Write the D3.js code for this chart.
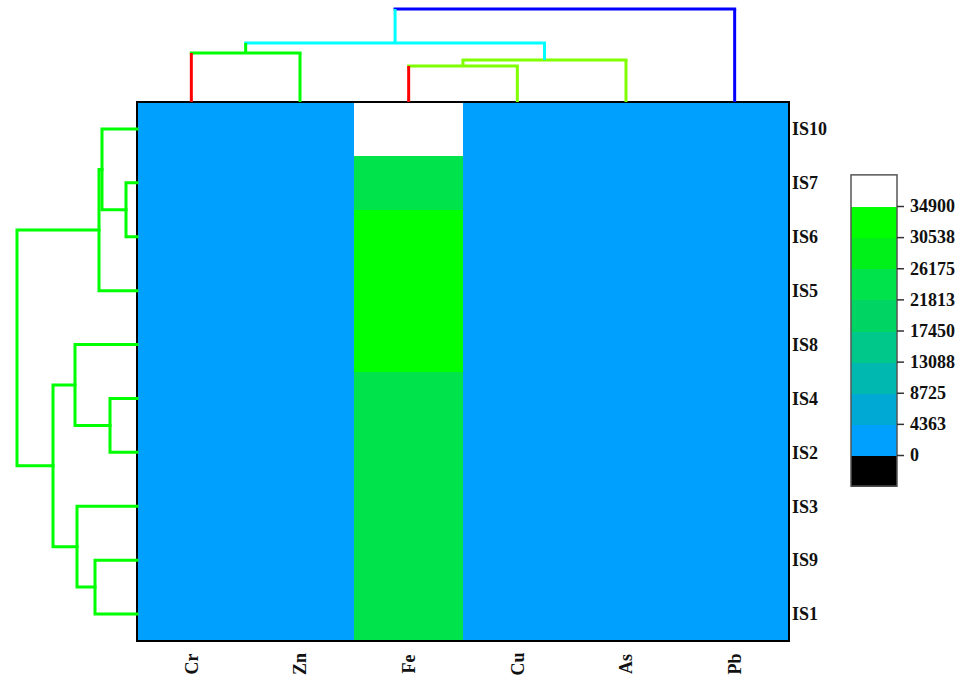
<!DOCTYPE html>
<html>
<head>
<meta charset="utf-8">
<script src="https://cdn.jsdelivr.net/npm/d3@7"></script>
<style>
  html, body { margin: 0; padding: 0; background: #fff; }
  svg { display: block; }
  text { font-family: "Liberation Serif", "Times New Roman", serif; font-weight: bold; fill: #111; }
</style>
</head>
<body>
<svg id="chart" width="967" height="676"></svg>
<script>
// Elements (columns) and samples (rows), in dendrogram leaf order
const elements = ["Cr", "Zn", "Fe", "Cu", "As", "Pb"];
const samples = ["IS10", "IS7", "IS6", "IS5", "IS8", "IS4", "IS2", "IS3", "IS9", "IS1"];

// Concentrations per element, one value per sample (same order as samples)
const crValues = [62, 58, 55, 60, 57, 64, 59, 61, 56, 63];
const znValues = [95, 88, 92, 90, 86, 97, 93, 89, 91, 94];
const feValues = [34900, 24100, 32300, 31800, 31200, 23600, 23300, 22800, 23100, 22900];
const cuValues = [28, 25, 27, 26, 24, 29, 27, 25, 26, 28];
const asValues = [12, 10, 11, 13, 9, 12, 11, 10, 12, 11];
const pbValues = [35, 31, 33, 34, 30, 36, 32, 33, 31, 34];

// Colour levels of the contour scale
const levels = [0, 4363, 8725, 13088, 17450, 21813, 26175, 30538, 34900];

// Column clustering: [childA, childB, height]; leaves are 0..5, merges numbered from 6
const colMerges = [
  [0, 1, 49],
  [2, 3, 36],
  [7, 4, 42],
  [6, 8, 59],
  [9, 5, 93]
];
// Row clustering: leaves are 0..9, merges numbered from 10
const rowMerges = [
  [1, 2, 11],
  [0, 10, 35],
  [11, 3, 38],
  [5, 6, 27],
  [4, 13, 62],
  [8, 9, 42],
  [7, 15, 60],
  [14, 16, 84],
  [12, 17, 120]
];

const valuesByElement = [crValues, znValues, feValues, cuValues, asValues, pbValues];

// ---- styling ----
const levelColors = ["#000000", "#00a0ff", "#00a8d4", "#00b8b0", "#00c88a",
                     "#00d462", "#00e34a", "#00f019", "#00ff00", "#ffffff"];
// column dendrogram colours per merge: [leg A, leg B, bar]
const colLinkStyle = [
  ["#ff0000", "#00ff00", "#00ff00"],
  ["#ff0000", "#80ff00", "#80ff00"],
  ["#80ff00", "#80ff00", "#80ff00"],
  ["#00ff00", "#00ffff", "#00ffff"],
  ["#00ffff", "#0000ff", "#0000ff"]
];
const rowLinkColor = "#00ff00";

const svg = d3.select("#chart");
const hm = { left: 137, right: 789, top: 102, bottom: 641 };

const x = d3.scaleBand().domain(elements).range([hm.left, hm.right]).padding(0);
const y = d3.scaleBand().domain(samples).range([hm.top, hm.bottom]).padding(0);
const color = d3.scaleThreshold().domain(levels).range(levelColors);

// ---- heatmap cells ----
const cells = [];
elements.forEach((el, i) => {
  samples.forEach((s, j) => cells.push({ el, s, v: valuesByElement[i][j] }));
});
svg.append("g").attr("shape-rendering", "crispEdges")
  .selectAll("rect").data(cells).join("rect")
  .attr("x", d => x(d.el))
  .attr("y", d => y(d.s))
  .attr("width", x.bandwidth() + 1)
  .attr("height", y.bandwidth() + 1)
  .attr("fill", d => color(d.v));

svg.append("rect")
  .attr("x", hm.left).attr("y", hm.top)
  .attr("width", hm.right - hm.left).attr("height", hm.bottom - hm.top)
  .attr("fill", "none").attr("stroke", "#000").attr("stroke-width", 2);

// ---- row labels ----
svg.append("g").selectAll("text").data(samples).join("text")
  .attr("x", hm.right + 3)
  .attr("y", d => y(d) + y.bandwidth() / 2)
  .attr("dy", "0.35em")
  .attr("font-size", 18)
  .text(d => d);

// ---- column labels ----
svg.append("g").selectAll("text").data(elements).join("text")
  .attr("transform", d => `translate(${x(d) + x.bandwidth() / 2},664) rotate(-90)`)
  .attr("text-anchor", "middle")
  .attr("dy", "0.35em")
  .attr("font-size", 18)
  .text(d => d);

// ---- dendrograms ----
function buildTree(nLeaves, merges, leafPos) {
  const pos = leafPos.slice();
  const h = new Array(nLeaves).fill(0);
  merges.forEach(([a, b, height]) => {
    pos.push((pos[a] + pos[b]) / 2);
    h.push(height);
  });
  return { pos, h };
}

// top (columns)
const colH = d3.scaleLinear().domain([0, 93]).range([hm.top, 9]);
const colTree = buildTree(elements.length, colMerges,
  elements.map(e => x(e) + x.bandwidth() / 2));
const gTop = svg.append("g").attr("fill", "none").attr("stroke-width", 3).attr("stroke-linecap", "square");
colMerges.forEach(([a, b, height], i) => {
  const yTop = colH(height);
  const cbar = colLinkStyle[i][2];
  gTop.append("line").attr("x1", colTree.pos[a]).attr("x2", colTree.pos[b])
    .attr("y1", yTop).attr("y2", yTop).attr("stroke", cbar);
});
colMerges.forEach(([a, b, height], i) => {
  const yTop = colH(height);
  const [ca, cb] = colLinkStyle[i];
  gTop.append("line").attr("x1", colTree.pos[a]).attr("x2", colTree.pos[a])
    .attr("y1", colH(colTree.h[a])).attr("y2", yTop).attr("stroke", ca)
    .attr("stroke-linecap", "butt");
  gTop.append("line").attr("x1", colTree.pos[b]).attr("x2", colTree.pos[b])
    .attr("y1", colH(colTree.h[b])).attr("y2", yTop).attr("stroke", cb)
    .attr("stroke-linecap", "butt");
});

// left (rows)
const rowH = d3.scaleLinear().domain([0, 120]).range([hm.left, 17]);
const rowTree = buildTree(samples.length, rowMerges,
  samples.map(s => y(s) + y.bandwidth() / 2));
const gLeft = svg.append("g").attr("fill", "none").attr("stroke", rowLinkColor)
  .attr("stroke-width", 3).attr("stroke-linecap", "square");
rowMerges.forEach(([a, b, height]) => {
  const xm = rowH(height);
  gLeft.append("path").attr("d",
    `M${rowH(rowTree.h[a])},${rowTree.pos[a]}H${xm}V${rowTree.pos[b]}H${rowH(rowTree.h[b])}`);
});

// ---- colour bar ----
const cbX = 851, cbW = 46;
const cbY = d3.scaleLinear().domain([levels[0], levels[levels.length - 1]]).range([455, 206]);
const bands = levelColors.map((c, i) => {
  const lo = i === 0 ? levels[0] - (levels[1] - levels[0]) : levels[i - 1];
  const hi = i === levelColors.length - 1 ? levels[levels.length - 1] + (levels[1] - levels[0]) : levels[i];
  return { c, lo, hi };
});
const gBar = svg.append("g");
gBar.append("g").attr("shape-rendering", "crispEdges")
  .selectAll("rect").data(bands).join("rect")
  .attr("x", cbX).attr("width", cbW)
  .attr("y", d => cbY(d.hi))
  .attr("height", d => cbY(d.lo) - cbY(d.hi) + 1)
  .attr("fill", d => d.c);
gBar.append("rect")
  .attr("x", cbX).attr("y", cbY(bands[bands.length - 1].hi))
  .attr("width", cbW).attr("height", cbY(bands[0].lo) - cbY(bands[bands.length - 1].hi))
  .attr("fill", "none").attr("stroke", "#555").attr("stroke-width", 1.5);

const cbAxis = d3.axisRight(cbY).tickValues(levels).tickSize(7).tickPadding(6).tickFormat(d => d);
const gAxis = svg.append("g").attr("transform", `translate(${cbX + cbW},0)`).call(cbAxis);
gAxis.select(".domain").remove();
gAxis.selectAll(".tick line").attr("stroke", "#333").attr("stroke-width", 1.5);
gAxis.selectAll(".tick text")
  .attr("font-family", "Liberation Serif, Times New Roman, serif")
  .attr("font-weight", "bold").attr("font-size", 18).attr("fill", "#111");
</script>
</body>
</html>
